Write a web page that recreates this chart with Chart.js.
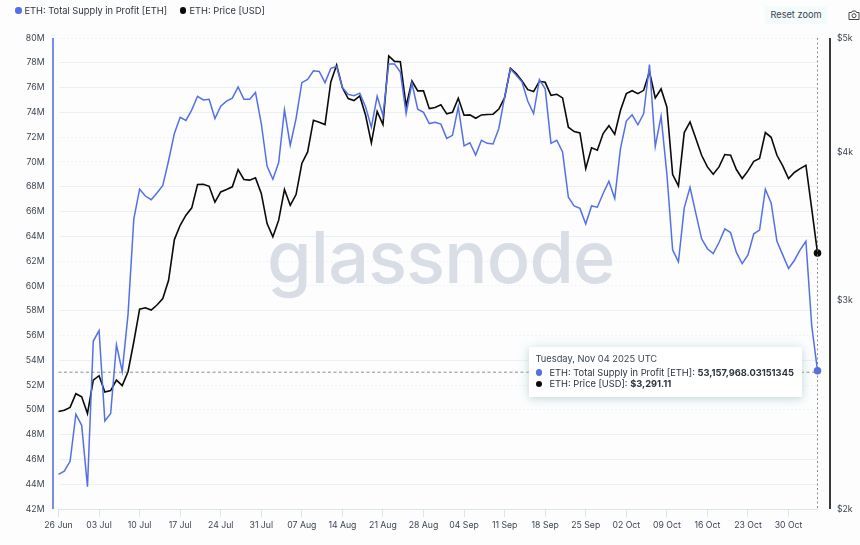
<!DOCTYPE html>
<html>
<head>
<meta charset="utf-8">
<title>ETH: Total Supply in Profit</title>
<script src="https://cdn.jsdelivr.net/npm/chart.js@4"></script>
<style>
  html, body { margin: 0; background: #fdfdfe; }
  body { width: 860px; height: 545px; position: relative; overflow: hidden; font-family: Inter, sans-serif; color: #2c333c; }
  canvas { position: absolute; left: 0; top: 0; }
  .overlay { position: absolute; white-space: nowrap; font-size: 9.3px; line-height: 12px; }
  .dot { position: absolute; border-radius: 50%; width: 6.5px; height: 6.5px; }
  #tip { position: absolute; left: 529px; top: 347px; width: 273px; height: 50px; background: #fff;
         box-shadow: 0 2px 7px rgba(120,150,150,.3), 0 0 14px rgba(190,235,230,.45); }
  #reset { position: absolute; left: 765px; top: 6px; width: 62px; height: 18px; background: #f4fbfb;
           text-align: center; font-size: 9.2px; line-height: 18px; color: #3c4550; }
</style>
</head>
<body>
<canvas id="chart" width="860" height="545"></canvas>

<div class="dot" style="left:15px;top:7px;background:#5470e6"></div>
<div class="overlay" id="leg1" style="left:24.5px;top:4.5px"></div>
<div class="dot" style="left:179.5px;top:7px;background:#0a0a0a"></div>
<div class="overlay" id="leg2" style="left:189.5px;top:4.5px"></div>

<div id="reset">Reset zoom</div>
<svg style="position:absolute;left:848px;top:10px" width="12" height="10" viewBox="0 0 12 10" fill="none" stroke="#444" stroke-width="1">
  <path d="M1 2.5h2.5l1-1.5h3l1 1.5H11v7H1z"/><circle cx="6" cy="5.7" r="2"/>
</svg>

<div id="tip">
  <div class="overlay" id="tipDate" style="left:6.5px;top:6px;color:#3c4550"></div>
  <div class="dot" style="left:6.5px;top:22px;background:#5470e6"></div>
  <div class="overlay" id="tipRow1" style="left:20.5px;top:19.5px"></div>
  <div class="dot" style="left:6.5px;top:33.5px;background:#0a0a0a"></div>
  <div class="overlay" id="tipRow2" style="left:20.5px;top:31px"></div>
</div>

<script>
const supplyName = 'ETH: Total Supply in Profit [ETH]';
const priceName = 'ETH: Price [USD]';
const tipDate = 'Tuesday, Nov 04 2025 UTC';
const tipSupply = '53,157,968.03151345';
const tipPrice = '$3,291.11';

const tickLabels = ['26 Jun', '03 Jul', '10 Jul', '17 Jul', '24 Jul', '31 Jul', '07 Aug', '14 Aug', '21 Aug', '28 Aug',
  '04 Sep', '11 Sep', '18 Sep', '25 Sep', '02 Oct', '09 Oct', '16 Oct', '23 Oct', '30 Oct'];
const priceTicks = [2000, 3000, 4000, 5000];
const dottedRows = [80, 72, 70, 62, 60, 56, 52, 50];

// millions of ETH, one value per day
const supply = [44.8, 45.05, 45.85, 49.65, 48.75, 43.8, 55.55, 56.4, 49.1, 49.7, 55.25, 53.1, 57.7, 65.4, 67.8, 67.25, 66.95, 67.5, 68.1, 70.1,
  72.3, 73.6, 73.35, 74.2, 75.3, 75, 75.05, 73.5, 74.5, 74.9, 75.15, 76.05, 75.05, 75.05, 75.6, 73.1, 69.65, 68.6, 69.95, 74.2,
  71.35, 73.5, 76.4, 76.65, 77.35, 77.3, 76.4, 77.55, 77.7, 76, 75.45, 75.35, 75.55, 74.45, 72.8, 75.3, 73.75, 77.9, 77.9, 77.25,
  73.9, 76.35, 74.25, 74, 73.1, 73.2, 73.05, 71.9, 72.15, 74.45, 71.3, 71.55, 70.55, 71.75, 71.5, 71.45, 72.7, 75.25, 77.5, 77,
  76.45, 74.9, 73.9, 76.65, 75.9, 71.5, 71.75, 70.8, 67.15, 66.45, 66.25, 65, 66.45, 66.35, 67.45, 68.45, 67.05, 71.1, 73.3, 73.8,
  73, 73.9, 77.85, 71.25, 73.7, 69.05, 62.9, 61.95, 66.3, 67.95, 65.85, 63.8, 63, 62.6, 63.5, 64.6, 64.3, 62.7, 61.8, 62.5,
  64.2, 64.5, 67.8, 66.7, 63.6, 62.5, 61.4, 62.05, 62.9, 63.6, 56.8, 53.158];

// USD, one value per day
const price = [2418, 2424, 2437, 2503, 2488, 2408, 2570, 2592, 2511, 2518, 2570, 2543, 2612, 2769, 2950, 2958, 2945, 2974, 3012, 3121,
  3378, 3473, 3542, 3593, 3760, 3762, 3747, 3633, 3706, 3723, 3743, 3871, 3797, 3792, 3809, 3695, 3485, 3396, 3508, 3723,
  3611, 3687, 3917, 4006, 4261, 4244, 4225, 4590, 4744, 4540, 4444, 4427, 4467, 4302, 4077, 4335, 4225, 4828, 4778, 4775,
  4378, 4599, 4511, 4511, 4358, 4367, 4390, 4314, 4327, 4447, 4302, 4305, 4277, 4305, 4308, 4311, 4355, 4452, 4714, 4665,
  4599, 4522, 4505, 4596, 4587, 4472, 4481, 4450, 4203, 4168, 4157, 3878, 4038, 4019, 4152, 4216, 4146, 4344, 4487, 4513,
  4487, 4516, 4683, 4450, 4528, 4372, 3834, 3750, 4160, 4247, 4112, 3980, 3891, 3836, 3891, 3986, 3980, 3871, 3804, 3861,
  3934, 3955, 4160, 4122, 3980, 3899, 3804, 3849, 3878, 3904, 3588, 3291.11];

document.getElementById('leg1').textContent = supplyName;
document.getElementById('leg2').textContent = priceName;
document.getElementById('tipDate').textContent = tipDate;
document.getElementById('tipRow1').innerHTML = supplyName + ': <b>' + tipSupply + '</b>';
document.getElementById('tipRow2').innerHTML = priceName + ': <b>' + tipPrice + '</b>';

const lastIdx = supply.length - 1;
const tickFont = { family: 'Inter', size: 8.7 };

// watermark sits behind the lines
const watermark = {
  id: 'watermark',
  beforeDatasetsDraw(chart) {
    const c = chart.ctx;
    c.save();
    c.font = '500 72px Inter';
    c.letterSpacing = '-0.8px';
    c.fillStyle = '#d9dde6';
    c.textBaseline = 'alphabetic';
    c.fillText('glassnode', 267, 283);
    c.restore();
  }
};

// coloured axis lines and the hover crosshair
const extras = {
  id: 'extras',
  afterDatasetsDraw(chart) {
    const c = chart.ctx;
    const { x, yLeft } = chart.scales;
    const top = chart.chartArea.top, bottom = chart.chartArea.bottom;
    c.save();
    c.lineWidth = 1.6;
    c.strokeStyle = '#5470e6';
    c.beginPath(); c.moveTo(53, top); c.lineTo(53, bottom); c.stroke();
    c.strokeStyle = '#0a0a0a';
    c.beginPath(); c.moveTo(830, top); c.lineTo(830, bottom); c.stroke();
    c.lineWidth = 0.8;
    c.strokeStyle = '#6b7078';
    c.setLineDash([2, 2.5]);
    const hx = x.getPixelForValue(lastIdx);
    c.beginPath(); c.moveTo(hx, top); c.lineTo(hx, bottom); c.stroke();
    c.setLineDash([3, 2.5]);
    const hy = yLeft.getPixelForValue(supply[lastIdx]) + 1.5;
    c.beginPath(); c.moveTo(chart.chartArea.left, hy); c.lineTo(hx, hy); c.stroke();
    c.restore();
  }
};

new Chart(document.getElementById('chart'), {
  type: 'line',
  data: {
    datasets: [
      {
        label: supplyName,
        data: supply.map((v, i) => ({ x: i, y: v })),
        yAxisID: 'yLeft',
        borderColor: '#5470e6',
        backgroundColor: '#5470e6',
        borderWidth: 1.5,
        pointRadius: c => c.dataIndex === lastIdx ? 3 : 0,
        clip: false,
        tension: 0
      },
      {
        label: priceName,
        data: price.map((v, i) => ({ x: i, y: v })),
        yAxisID: 'yRight',
        borderColor: '#0a0a0a',
        backgroundColor: '#0a0a0a',
        borderWidth: 1.6,
        pointRadius: c => c.dataIndex === lastIdx ? 3 : 0,
        clip: false,
        tension: 0
      }
    ]
  },
  options: {
    responsive: false,
    animation: false,
    layout: { padding: { top: 38 } },
    plugins: { legend: { display: false }, tooltip: { enabled: false } },
    scales: {
      x: {
        type: 'linear',
        min: 0,
        max: lastIdx,
        afterFit: s => { s.height = 36; },
        border: { color: '#dbe6ec' },
        grid: { drawOnChartArea: false, color: '#dbe6ec', tickLength: 8 },
        ticks: {
          stepSize: 7,
          includeBounds: false,
          maxRotation: 0,
          autoSkip: false,
          padding: 3,
          color: '#3c4550',
          font: tickFont,
          callback: v => tickLabels[v / 7]
        }
      },
      yLeft: {
        position: 'left',
        min: 42,
        max: 80,
        afterFit: s => { s.width = 58.5; },
        border: { display: false, dash: c => dottedRows.includes(c.tick && c.tick.value) ? [1.5, 2.5] : [] },
        grid: { color: '#e9f1f5', drawTicks: false },
        ticks: {
          stepSize: 2,
          padding: 14,
          color: '#3c4550',
          font: tickFont,
          callback: v => v + 'M'
        }
      },
      yRight: {
        type: 'logarithmic',
        position: 'right',
        min: 2000,
        max: 5000,
        afterFit: s => { s.width = 42.5; },
        afterBuildTicks: s => { s.ticks = priceTicks.map(v => ({ value: v })); },
        border: { display: false },
        grid: { drawOnChartArea: false, drawTicks: false },
        ticks: {
          padding: 19.5,
          color: '#3c4550',
          font: tickFont,
          callback: v => '$' + v / 1000 + 'k'
        }
      }
    }
  },
  plugins: [watermark, extras]
});
</script>
</body>
</html>
